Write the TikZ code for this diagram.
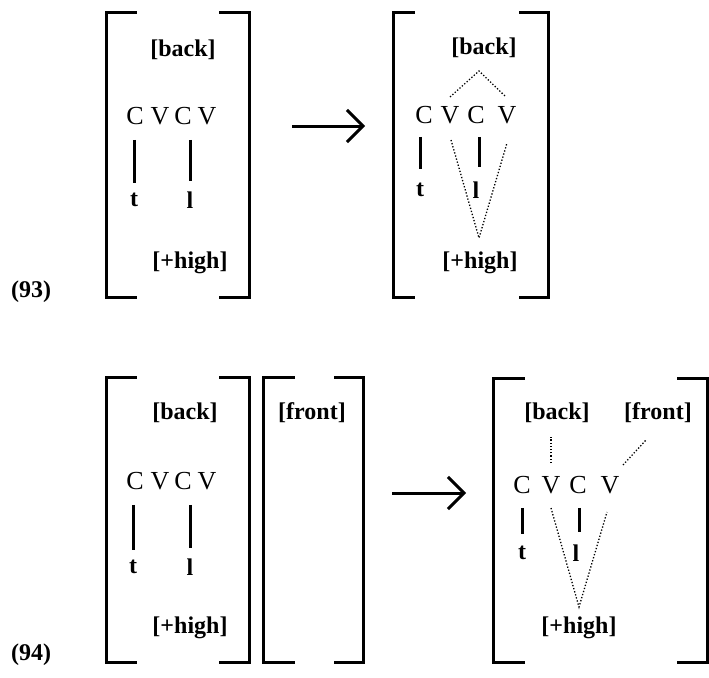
\documentclass[tikz,border=0pt]{standalone}
\usepackage{fontspec}
\setmainfont{Liberation Serif}
\usetikzlibrary{arrows.meta}
\tikzset{
  lab/.style={inner sep=0pt, font=\fontsize{24}{28}\selectfont\bfseries},
  seg/.style={inner sep=0pt, font=\fontsize{26}{30}\selectfont},
  brk/.style={line width=3pt, line cap=rect},
  assoc/.style={line width=3pt},
  dotline/.style={line width=1.3pt, dash pattern=on 1.3pt off 1.9pt},
  bigarrow/.style={line width=3pt, -{Straight Barb[length=16pt,width=32pt,line width=3pt]}}
}
\begin{document}
\begin{tikzpicture}[x=1pt,y=-1pt]
\useasboundingbox (0,0) rectangle (709,677);
% ---------- (93) ----------
\node[lab] (n93) at (31,292) {(93)};
% left bracketed form
\draw[brk] (135,13) -- (106,13) -- (106,297) -- (135,297);
\draw[brk] (220,13) -- (249,13) -- (249,297) -- (220,297);
\node[lab] (b1) at (183,50) {[back]};
\node[seg] (c11) at (135,116) {C};
\node[seg] (v11) at (160,116) {V};
\node[seg] (c12) at (183,116) {C};
\node[seg] (v12) at (207,116) {V};
\node[lab] (t1) at (134,200) {t};
\node[lab] (l1) at (190,200) {l};
\node[lab] (h1) at (190,263) {[+high]};
\draw[assoc, shorten <=15pt, shorten >=10pt] (c11.south -| t1.north) -- (t1.north);
\draw[assoc, shorten <=15pt, shorten >=10pt] (c12.south -| l1.north) -- (l1.north);
% arrow
\coordinate (a1s) at (292,126);
\coordinate (a1e) at (365,126);
\draw[bigarrow] (a1s) -- (a1e);
% right form
\draw[brk] (413,13) -- (393,13) -- (393,297) -- (413,297);
\draw[brk] (520,13) -- (548,13) -- (548,297) -- (520,297);
\node[lab] (b2) at (484,48) {[back]};
\node[seg] (c21) at (424,115) {C};
\node[seg] (v21) at (450,115) {V};
\node[seg] (c22) at (476,115) {C};
\node[seg] (v22) at (507,115) {V};
\node[lab] (t2) at (420,190) {t};
\node[lab] (l2) at (476,190) {l};
\node[lab] (h2) at (480,263) {[+high]};
\draw[assoc, shorten <=13pt, shorten >=14pt] (c21.south -| t2.north) -- (t2.north);
\draw[assoc, shorten <=13pt, shorten >=14pt] ([xshift=3pt]l2.north |- c22.south) -- ([xshift=3pt]l2.north);
\coordinate (ap21) at (479,71);
\coordinate (ap22) at (479,238);
\coordinate (e21) at (450,97);
\coordinate (e22) at (506,97);
\coordinate (e23) at (451,140);
\coordinate (e24) at (507,143);
\draw[dotline] (e21) -- (ap21) -- (e22);
\draw[dotline] (e23) -- (ap22) -- (e24);
% ---------- (94) ----------
\node[lab] (n94) at (31,655) {(94)};
\draw[brk] (135,377) -- (106,377) -- (106,662) -- (135,662);
\draw[brk] (220,377) -- (249,377) -- (249,662) -- (220,662);
\draw[brk] (293,377) -- (263,377) -- (263,662) -- (293,662);
\draw[brk] (335,377) -- (363,377) -- (363,662) -- (335,662);
\node[lab] (b3) at (185,413) {[back]};
\node[lab] (f1) at (312,413) {[front]};
\node[seg] (c31) at (135,481) {C};
\node[seg] (v31) at (160,481) {V};
\node[seg] (c32) at (183,481) {C};
\node[seg] (v32) at (207,481) {V};
\node[lab] (t3) at (133,567) {t};
\node[lab] (l3) at (190,567) {l};
\node[lab] (h3) at (190,628) {[+high]};
\draw[assoc, shorten <=15pt, shorten >=10pt] (c31.south -| t3.north) -- (t3.north);
\draw[assoc, shorten <=15pt, shorten >=10pt] (c32.south -| l3.north) -- (l3.north);
% arrow
\coordinate (a2s) at (392,493);
\coordinate (a2e) at (466,493);
\draw[bigarrow] (a2s) -- (a2e);
% right form
\draw[brk] (523,378) -- (493,378) -- (493,662) -- (523,662);
\draw[brk] (678,378) -- (707,378) -- (707,662) -- (678,662);
\node[lab] (b4) at (557,413) {[back]};
\node[lab] (f2) at (658,413) {[front]};
\node[seg] (c41) at (522,485) {C};
\node[seg] (v41) at (551,485) {V};
\node[seg] (c42) at (578,485) {C};
\node[seg] (v42) at (610,485) {V};
\node[lab] (t4) at (522,553) {t};
\node[lab] (l4) at (576,553) {l};
\node[lab] (h4) at (579,628) {[+high]};
\draw[assoc, shorten <=14pt, shorten >=12pt] (c41.south -| t4.north) -- (t4.north);
\draw[assoc, shorten <=14pt, shorten >=12pt] ([xshift=3pt]l4.north |- c42.south) -- ([xshift=3pt]l4.north);
\coordinate (ap4) at (579,607);
\coordinate (e41) at (551,463);
\coordinate (e42) at (551,437);
\coordinate (e43) at (623,465);
\coordinate (e44) at (646,440);
\coordinate (e45) at (551,508);
\coordinate (e46) at (607,512);
\draw[dotline] (e41) -- (e42);
\draw[dotline] (e43) -- (e44);
\draw[dotline] (e45) -- (ap4) -- (e46);
\end{tikzpicture}
\end{document}
